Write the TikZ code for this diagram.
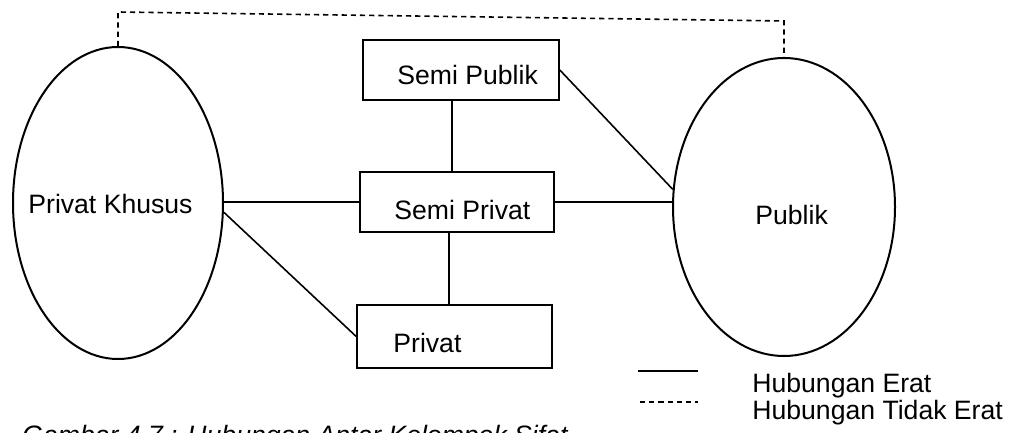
\documentclass[tikz,border=0pt]{standalone}
\usepackage{fontspec}
\setmainfont{Liberation Sans}
\usetikzlibrary{shapes.geometric}
\begin{document}
\begin{tikzpicture}[x=0.5pt,y=-0.5pt,
  zone/.style={draw,ellipse,inner sep=0pt,line width=1pt},
  roombox/.style={draw,rectangle,inner sep=0pt,line width=0.8pt},
  lbl/.style={anchor=base west,inner sep=0pt,font=\fontsize{13.3pt}{15pt}\selectfont},
  tight/.style={line width=0.8pt},
  loose/.style={line width=0.8pt,dash pattern=on 2.6pt off 2pt}]
  \useasboundingbox (0,0) rectangle (1022,433);
  \clip (0,0) rectangle (1022,433);

  % zones
  \node[zone,minimum width=105pt,minimum height=156pt] (pk) at (118,203) {};
  \node[zone,minimum width=111pt,minimum height=149pt] (pu) at (784,207) {};
  \node[lbl] (tpk) at (28,213) {Privat Khusus};
  \node[lbl] (tpu) at (755,224) {Publik};

  % room groups
  \node[roombox,minimum width=98pt,minimum height=30pt] (sp) at (461,70) {};
  \node[roombox,minimum width=97pt,minimum height=30pt] (sv) at (457,202) {};
  \node[roombox,minimum width=97.5pt,minimum height=31.5pt] (pr) at (454.5,336.5) {};
  \node[lbl] (tsp) at (397,85) {Semi Publik};
  \node[lbl] (tsv) at (394,219) {Semi Privat};
  \node[lbl] (tpr) at (393,352) {Privat};

  % close relations
  \coordinate (v1) at (452,0);
  \coordinate (v2) at (449,0);
  \draw[tight] (sp.south -| v1) -- (sv.north -| v1);
  \draw[tight] (sv.south -| v2) -- (pr.north -| v2);
  \draw[tight] (sv.west -| pk.east) -- (sv.west);
  \draw[tight] (pk.-5) -- (pr.west);
  \draw[tight] (sv.east) -- (sv.east -| pu.west);
  \draw[tight] (sp.east) -- (pu.171);

  % loose relation
  \coordinate (topl) at (0,12);
  \coordinate (topr) at (0,21);
  \draw[loose] (pk.north) -- (pk.north |- topl) -- (pu.north |- topr) -- (pu.north);

  % legend
  \coordinate (l1a) at (638,371);
  \coordinate (l1b) at (698,371);
  \coordinate (l2a) at (640,402);
  \coordinate (l2b) at (698,402);
  \draw[tight] (l1a) -- (l1b);
  \draw[loose] (l2a) -- (l2b);
  \node[lbl] (le1) at (752,392) {Hubungan Erat};
  \node[lbl] (le2) at (752,419) {Hubungan Tidak Erat};

  % caption
  \node[lbl,font=\fontsize{13.3pt}{15pt}\selectfont\itshape] (cap) at (22,444) {Gambar 4.7 : Hubungan Antar Kelompok Sifat};
\end{tikzpicture}
\end{document}
